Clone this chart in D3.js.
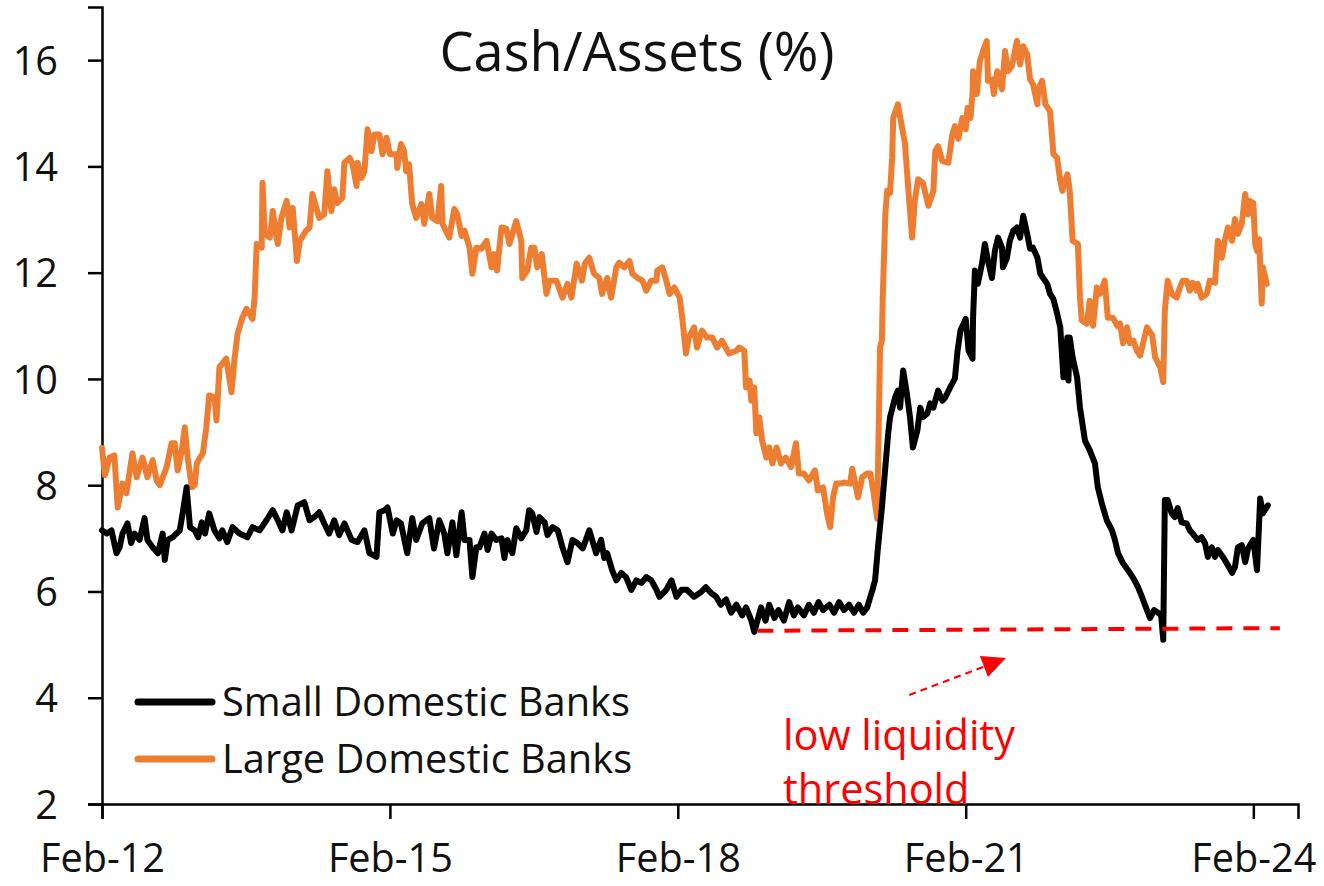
<!DOCTYPE html>
<html>
<head>
<meta charset="utf-8">
<script src="https://cdn.jsdelivr.net/npm/d3@7"></script>
<style>
  html, body { margin: 0; padding: 0; background: #fff; }
  svg { display: block; font-family: "Open Sans", Lato, sans-serif; }
</style>
</head>
<body>
<svg id="chart" width="1324" height="886"></svg>
<script>
// Small domestic banks, cash / assets (%)
const smallBanks = [
  ['2012-02-01', 7.15], ['2012-02-19', 7.09], ['2012-03-08', 7.15], ['2012-03-27', 6.72], ['2012-04-08', 6.83],
  ['2012-04-19', 7.09], ['2012-05-08', 7.28], ['2012-05-22', 6.91], ['2012-06-04', 7.09], ['2012-06-23', 6.97],
  ['2012-07-12', 7.38], ['2012-07-23', 6.97], ['2012-08-12', 6.83], ['2012-09-01', 6.72], ['2012-09-19', 7.09],
  ['2012-09-27', 6.59], ['2012-10-08', 6.97], ['2012-10-27', 7.02], ['2012-11-23', 7.15], ['2012-12-04', 7.47],
  ['2012-12-19', 7.96], ['2013-01-01', 7.21], ['2013-01-19', 7.15], ['2013-02-01', 7.02], ['2013-02-15', 7.30],
  ['2013-02-27', 7.09], ['2013-03-15', 7.47], ['2013-04-04', 7.15], ['2013-04-23', 7.00], ['2013-05-04', 7.15],
  ['2013-05-23', 6.93], ['2013-06-12', 7.21], ['2013-07-08', 7.09], ['2013-08-08', 7.02], ['2013-08-27', 7.21],
  ['2013-09-23', 7.15], ['2013-10-19', 7.34], ['2013-11-12', 7.53], ['2013-12-01', 7.34], ['2013-12-19', 7.15],
  ['2014-01-04', 7.49], ['2014-01-23', 7.15], ['2014-02-15', 7.62], ['2014-03-12', 7.68], ['2014-04-01', 7.34],
  ['2014-04-19', 7.40], ['2014-05-08', 7.49], ['2014-05-27', 7.28], ['2014-06-15', 7.09], ['2014-07-04', 7.34],
  ['2014-07-23', 7.06], ['2014-08-12', 7.28], ['2014-09-08', 6.97], ['2014-10-01', 6.93], ['2014-10-27', 7.15],
  ['2014-11-15', 6.72], ['2014-12-12', 6.65], ['2014-12-23', 7.49], ['2015-01-12', 7.53], ['2015-01-23', 7.58],
  ['2015-02-12', 7.09], ['2015-02-27', 7.34], ['2015-03-15', 7.28], ['2015-04-08', 6.72], ['2015-04-27', 7.38],
  ['2015-05-12', 6.97], ['2015-06-04', 7.28], ['2015-07-01', 7.38], ['2015-07-12', 7.02], ['2015-07-19', 6.81],
  ['2015-08-08', 7.34], ['2015-08-27', 7.09], ['2015-09-08', 6.72], ['2015-09-27', 7.30], ['2015-10-12', 6.68],
  ['2015-11-01', 7.49], ['2015-11-12', 6.97], ['2015-12-01', 6.97], ['2015-12-12', 6.27], ['2015-12-27', 6.83],
  ['2016-01-08', 6.83], ['2016-01-27', 7.09], ['2016-02-08', 6.78], ['2016-02-23', 7.09], ['2016-03-12', 6.97],
  ['2016-04-01', 7.00], ['2016-04-12', 6.63], ['2016-04-23', 6.97], ['2016-05-12', 6.72], ['2016-05-27', 7.19],
  ['2016-06-15', 7.00], ['2016-07-04', 7.15], ['2016-07-15', 7.53], ['2016-07-27', 7.47], ['2016-08-12', 7.12],
  ['2016-08-23', 7.40], ['2016-09-12', 7.30], ['2016-09-23', 7.06], ['2016-10-12', 7.21], ['2016-11-01', 7.15],
  ['2016-11-19', 6.83], ['2016-12-08', 6.55], ['2016-12-27', 6.97], ['2017-01-15', 6.91], ['2017-02-04', 6.81],
  ['2017-03-01', 7.15], ['2017-03-12', 6.97], ['2017-03-27', 6.72], ['2017-04-15', 6.97], ['2017-04-27', 6.63],
  ['2017-05-08', 6.72], ['2017-05-27', 6.40], ['2017-06-12', 6.21], ['2017-07-01', 6.35], ['2017-07-19', 6.27],
  ['2017-08-08', 6.03], ['2017-08-27', 6.21], ['2017-09-15', 6.16], ['2017-10-04', 6.27], ['2017-10-23', 6.21],
  ['2017-11-12', 6.03], ['2017-11-23', 5.90], ['2017-12-19', 6.03], ['2018-01-08', 6.21], ['2018-01-27', 5.90],
  ['2018-02-15', 6.03], ['2018-03-08', 6.03], ['2018-04-04', 5.90], ['2018-05-01', 5.99], ['2018-05-19', 6.08],
  ['2018-06-08', 5.97], ['2018-06-27', 5.90], ['2018-07-15', 5.75], ['2018-08-04', 5.85], ['2018-08-23', 5.60],
  ['2018-09-12', 5.75], ['2018-10-04', 5.55], ['2018-10-19', 5.70], ['2018-11-08', 5.45], ['2018-11-19', 5.24],
  ['2018-12-04', 5.50], ['2018-12-15', 5.70], ['2019-01-01', 5.45], ['2019-01-15', 5.75], ['2019-02-04', 5.50],
  ['2019-02-19', 5.65], ['2019-03-12', 5.45], ['2019-04-01', 5.80], ['2019-04-19', 5.55], ['2019-05-04', 5.70],
  ['2019-05-27', 5.55], ['2019-06-15', 5.75], ['2019-07-04', 5.60], ['2019-07-22', 5.80], ['2019-08-08', 5.65],
  ['2019-09-01', 5.75], ['2019-09-19', 5.60], ['2019-10-08', 5.80], ['2019-10-27', 5.65], ['2019-11-15', 5.75],
  ['2019-12-04', 5.60], ['2019-12-22', 5.75], ['2020-01-08', 5.60], ['2020-01-23', 5.70], ['2020-02-12', 6.03],
  ['2020-02-22', 6.21], ['2020-03-04', 6.83], ['2020-03-19', 7.58], ['2020-04-01', 8.34], ['2020-04-12', 8.98],
  ['2020-04-19', 9.28], ['2020-05-08', 9.65], ['2020-05-19', 9.78], ['2020-05-27', 9.46], ['2020-06-08', 10.16],
  ['2020-06-22', 9.72], ['2020-07-04', 9.28], ['2020-07-15', 8.71], ['2020-08-01', 9.03], ['2020-08-12', 9.46],
  ['2020-08-22', 9.28], ['2020-09-08', 9.35], ['2020-09-19', 9.54], ['2020-10-01', 9.46], ['2020-10-19', 9.78],
  ['2020-11-04', 9.59], ['2020-11-15', 9.65], ['2020-12-04', 9.84], ['2020-12-22', 10.01], ['2021-01-01', 10.53],
  ['2021-01-12', 10.91], ['2021-02-01', 11.13], ['2021-02-12', 10.53], ['2021-02-27', 10.38], ['2021-03-01', 11.15],
  ['2021-03-08', 12.04], ['2021-03-19', 11.79], ['2021-04-04', 12.17], ['2021-04-15', 12.54], ['2021-04-27', 12.22],
  ['2021-05-12', 11.90], ['2021-05-23', 12.41], ['2021-06-04', 12.66], ['2021-06-19', 12.47], ['2021-06-23', 12.10],
  ['2021-07-08', 12.28], ['2021-07-19', 12.60], ['2021-08-01', 12.79], ['2021-08-15', 12.85], ['2021-08-27', 12.66],
  ['2021-09-08', 13.07], ['2021-09-23', 12.73], ['2021-10-04', 12.45], ['2021-10-15', 12.47], ['2021-11-01', 12.28],
  ['2021-11-12', 11.98], ['2021-11-23', 11.90], ['2021-12-08', 11.79], ['2021-12-19', 11.60], ['2022-01-01', 11.50],
  ['2022-01-15', 11.23], ['2022-01-27', 10.97], ['2022-02-08', 10.03], ['2022-02-23', 10.78], ['2022-02-27', 9.97],
  ['2022-03-04', 10.78], ['2022-03-15', 10.41], ['2022-04-01', 10.03], ['2022-04-12', 9.46], ['2022-05-01', 8.84],
  ['2022-05-19', 8.66], ['2022-06-08', 8.41], ['2022-06-19', 7.96], ['2022-07-04', 7.66], ['2022-07-23', 7.34],
  ['2022-08-12', 7.15], ['2022-08-23', 6.97], ['2022-09-04', 6.72], ['2022-09-23', 6.53], ['2022-10-12', 6.40],
  ['2022-11-01', 6.25], ['2022-11-19', 6.08], ['2022-12-04', 5.90], ['2022-12-19', 5.70], ['2023-01-04', 5.50],
  ['2023-01-19', 5.65], ['2023-02-04', 5.60], ['2023-02-15', 5.55], ['2023-02-23', 5.09], ['2023-03-01', 7.72],
  ['2023-03-12', 7.72], ['2023-03-27', 7.47], ['2023-04-08', 7.40], ['2023-04-19', 7.57], ['2023-05-04', 7.30],
  ['2023-05-23', 7.28], ['2023-06-04', 7.15], ['2023-06-15', 7.09], ['2023-07-04', 6.97], ['2023-07-19', 7.02],
  ['2023-08-01', 6.91], ['2023-08-12', 6.65], ['2023-08-27', 6.83], ['2023-09-08', 6.65], ['2023-09-19', 6.78],
  ['2023-10-08', 6.65], ['2023-10-23', 6.53], ['2023-11-12', 6.35], ['2023-11-23', 6.46], ['2023-12-04', 6.83],
  ['2023-12-19', 6.87], ['2024-01-01', 6.55], ['2024-01-12', 6.81], ['2024-02-01', 6.97], ['2024-02-15', 6.40],
  ['2024-02-27', 7.75], ['2024-03-08', 7.47], ['2024-03-27', 7.62]
];

// Large domestic banks, cash / assets (%)
const largeBanks = [
  ['2012-02-01', 8.70], ['2012-02-12', 8.19], ['2012-03-01', 8.52], ['2012-03-19', 8.56], ['2012-04-01', 7.58],
  ['2012-04-19', 8.03], ['2012-05-04', 7.85], ['2012-05-27', 8.60], ['2012-06-12', 8.15], ['2012-07-04', 8.52],
  ['2012-07-23', 8.15], ['2012-08-12', 8.47], ['2012-08-27', 8.09], ['2012-09-08', 8.00], ['2012-10-04', 8.34],
  ['2012-10-23', 8.79], ['2012-11-04', 8.79], ['2012-11-15', 8.28], ['2012-12-01', 8.66], ['2012-12-12', 9.09],
  ['2012-12-23', 8.52], ['2013-01-08', 7.96], ['2013-01-19', 8.00], ['2013-01-27', 8.41], ['2013-02-08', 8.52],
  ['2013-02-19', 8.60], ['2013-03-04', 9.09], ['2013-03-15', 9.69], ['2013-04-04', 9.65], ['2013-04-12', 9.22],
  ['2013-04-23', 10.22], ['2013-05-19', 10.38], ['2013-06-08', 9.75], ['2013-06-19', 10.35], ['2013-07-01', 10.85],
  ['2013-07-19', 11.15], ['2013-08-04', 11.32], ['2013-08-27', 11.13], ['2013-09-04', 11.53], ['2013-09-12', 12.54],
  ['2013-10-01', 12.47], ['2013-10-04', 13.69], ['2013-10-12', 12.73], ['2013-11-01', 12.66], ['2013-11-12', 13.16],
  ['2013-12-01', 12.54], ['2013-12-15', 13.03], ['2014-01-04', 13.35], ['2014-01-15', 12.85], ['2014-01-27', 13.22],
  ['2014-02-12', 12.22], ['2014-02-23', 12.60], ['2014-03-19', 12.79], ['2014-04-01', 12.85], ['2014-04-12', 13.48],
  ['2014-05-08', 13.03], ['2014-05-27', 13.10], ['2014-06-08', 13.91], ['2014-06-23', 13.16], ['2014-07-04', 13.57],
  ['2014-07-15', 13.31], ['2014-08-04', 13.41], ['2014-08-12', 14.07], ['2014-09-01', 14.16], ['2014-09-12', 14.04],
  ['2014-09-27', 13.63], ['2014-10-01', 14.07], ['2014-10-15', 13.78], ['2014-10-27', 13.91], ['2014-11-08', 14.70],
  ['2014-11-23', 14.29], ['2014-12-04', 14.60], ['2014-12-23', 14.60], ['2015-01-04', 14.23], ['2015-01-19', 14.54],
  ['2015-02-01', 14.23], ['2015-02-27', 14.23], ['2015-03-01', 13.97], ['2015-03-15', 14.42], ['2015-03-27', 14.29],
  ['2015-04-04', 13.91], ['2015-04-15', 14.04], ['2015-04-27', 13.29], ['2015-05-12', 13.03], ['2015-06-01', 13.29],
  ['2015-06-12', 12.92], ['2015-07-01', 13.48], ['2015-07-12', 13.03], ['2015-08-01', 12.97], ['2015-08-15', 13.63],
  ['2015-08-20', 12.92], ['2015-09-15', 12.66], ['2015-10-04', 13.20], ['2015-10-15', 13.10], ['2015-11-01', 12.69],
  ['2015-11-12', 12.79], ['2015-12-01', 12.47], ['2015-12-12', 11.98], ['2015-12-27', 12.47], ['2016-01-15', 12.45],
  ['2016-02-04', 12.60], ['2016-02-23', 12.10], ['2016-03-04', 12.35], ['2016-03-15', 12.04], ['2016-04-01', 12.85],
  ['2016-04-19', 12.83], ['2016-05-01', 12.54], ['2016-05-27', 12.97], ['2016-06-15', 12.60], ['2016-06-19', 11.90],
  ['2016-07-08', 12.04], ['2016-07-23', 12.47], ['2016-08-04', 12.47], ['2016-08-15', 12.10], ['2016-09-01', 12.35],
  ['2016-09-19', 11.60], ['2016-10-01', 11.85], ['2016-10-27', 11.85], ['2016-11-19', 11.53], ['2016-12-08', 11.79],
  ['2016-12-23', 11.53], ['2017-01-12', 12.17], ['2017-02-01', 11.85], ['2017-02-12', 12.17], ['2017-03-01', 12.28],
  ['2017-03-19', 11.98], ['2017-04-08', 11.90], ['2017-04-19', 11.60], ['2017-05-08', 11.90], ['2017-05-23', 11.53],
  ['2017-06-12', 12.10], ['2017-06-23', 12.19], ['2017-07-12', 12.10], ['2017-08-01', 12.22], ['2017-08-12', 11.98],
  ['2017-09-01', 11.90], ['2017-09-19', 11.85], ['2017-10-04', 11.66], ['2017-10-23', 11.85], ['2017-11-12', 11.85],
  ['2017-11-15', 12.04], ['2017-12-04', 12.10], ['2017-12-19', 11.85], ['2018-01-01', 11.60], ['2018-01-19', 11.72],
  ['2018-02-08', 11.53], ['2018-02-19', 11.10], ['2018-03-04', 10.48], ['2018-03-15', 10.78], ['2018-04-04', 10.97],
  ['2018-04-15', 10.59], ['2018-05-04', 10.91], ['2018-05-23', 10.78], ['2018-06-12', 10.78], ['2018-07-01', 10.59],
  ['2018-07-19', 10.72], ['2018-08-15', 10.48], ['2018-09-12', 10.53], ['2018-09-23', 10.59], ['2018-10-12', 10.53],
  ['2018-10-19', 9.84], ['2018-11-01', 9.97], ['2018-11-08', 9.59], ['2018-11-19', 9.84], ['2018-11-27', 8.98],
  ['2018-12-08', 9.28], ['2018-12-19', 8.84], ['2019-01-04', 8.52], ['2019-01-15', 8.71], ['2019-01-27', 8.41],
  ['2019-02-12', 8.71], ['2019-03-01', 8.41], ['2019-03-19', 8.52], ['2019-04-08', 8.34], ['2019-04-27', 8.79],
  ['2019-05-08', 8.22], ['2019-05-27', 8.22], ['2019-06-15', 8.09], ['2019-07-08', 8.28], ['2019-07-19', 7.90],
  ['2019-08-08', 7.96], ['2019-08-23', 7.47], ['2019-09-04', 7.21], ['2019-09-15', 7.77], ['2019-09-27', 8.03],
  ['2019-10-12', 8.03], ['2019-10-27', 8.05], ['2019-11-19', 8.03], ['2019-11-27', 8.31], ['2019-12-19', 7.77],
  ['2020-01-04', 8.15], ['2020-01-23', 8.22], ['2020-02-04', 8.22], ['2020-02-15', 7.90], ['2020-03-01', 7.37],
  ['2020-03-12', 10.60], ['2020-03-19', 10.72], ['2020-03-22', 11.50], ['2020-04-01', 13.10], ['2020-04-08', 13.54],
  ['2020-04-19', 13.50], ['2020-04-27', 14.16], ['2020-05-01', 14.91], ['2020-05-19', 15.17], ['2020-06-04', 14.72],
  ['2020-06-15', 14.42], ['2020-06-27', 13.60], ['2020-07-12', 12.66], ['2020-07-22', 13.35], ['2020-08-04', 13.76],
  ['2020-08-22', 13.69], ['2020-09-12', 13.26], ['2020-10-01', 13.54], ['2020-10-08', 14.29], ['2020-10-19', 14.38],
  ['2020-11-04', 14.10], ['2020-11-27', 14.07], ['2020-12-12', 14.60], ['2020-12-22', 14.76], ['2021-01-04', 14.52],
  ['2021-01-19', 14.91], ['2021-02-01', 14.70], ['2021-02-08', 15.10], ['2021-02-19', 14.91], ['2021-02-27', 15.38],
  ['2021-03-01', 15.79], ['2021-03-15', 15.36], ['2021-03-27', 15.98], ['2021-04-08', 16.17], ['2021-04-22', 16.36],
  ['2021-04-27', 15.61], ['2021-05-12', 15.64], ['2021-05-19', 15.36], ['2021-06-01', 15.79], ['2021-06-19', 15.45],
  ['2021-07-01', 16.17], ['2021-07-12', 15.79], ['2021-07-27', 15.89], ['2021-08-15', 16.36], ['2021-08-27', 15.92],
  ['2021-09-08', 16.26], ['2021-09-23', 16.11], ['2021-10-04', 15.64], ['2021-10-15', 15.55], ['2021-11-01', 15.17],
  ['2021-11-04', 15.45], ['2021-11-19', 15.61], ['2021-12-01', 15.17], ['2021-12-19', 15.04], ['2022-01-01', 14.23],
  ['2022-01-15', 14.16], ['2022-01-27', 13.73], ['2022-02-04', 13.54], ['2022-02-23', 13.85], ['2022-03-04', 13.54],
  ['2022-03-15', 12.60], ['2022-04-04', 12.54], ['2022-04-12', 11.53], ['2022-04-19', 11.10], ['2022-05-08', 11.04],
  ['2022-05-19', 11.47], ['2022-06-01', 11.00], ['2022-06-15', 11.72], ['2022-06-27', 11.60], ['2022-07-15', 11.85],
  ['2022-07-27', 11.15], ['2022-08-15', 11.15], ['2022-09-01', 11.00], ['2022-09-12', 11.04], ['2022-09-23', 10.67],
  ['2022-10-08', 10.97], ['2022-10-19', 10.67], ['2022-11-01', 10.72], ['2022-11-15', 10.53], ['2022-11-27', 10.44],
  ['2022-12-08', 10.67], ['2022-12-23', 10.97], ['2023-01-12', 10.82], ['2023-01-23', 10.41], ['2023-02-12', 10.22],
  ['2023-02-23', 9.94], ['2023-03-01', 11.29], ['2023-03-12', 11.85], ['2023-03-27', 11.60], ['2023-04-15', 11.53],
  ['2023-04-27', 11.72], ['2023-05-08', 11.85], ['2023-05-23', 11.85], ['2023-06-04', 11.66], ['2023-06-15', 11.81],
  ['2023-07-01', 11.66], ['2023-07-04', 11.79], ['2023-07-19', 11.53], ['2023-08-08', 11.60], ['2023-08-19', 11.85],
  ['2023-09-08', 11.81], ['2023-09-19', 12.60], ['2023-10-04', 12.28], ['2023-10-15', 12.60], ['2023-10-27', 12.85],
  ['2023-11-12', 12.60], ['2023-11-23', 13.01], ['2023-12-04', 12.73], ['2023-12-19', 12.92], ['2024-01-01', 13.48],
  ['2024-01-12', 13.10], ['2024-01-19', 13.35], ['2024-02-01', 13.31], ['2024-02-08', 12.54], ['2024-02-15', 12.41],
  ['2024-02-23', 12.63], ['2024-03-04', 11.42], ['2024-03-08', 12.10], ['2024-03-23', 11.79]
];

// low liquidity threshold (dashed red line) and the arrow pointing at it
const threshold = [['2018-12-01', 5.26], ['2024-05-12', 5.31]];
const arrowFrom = ['2020-07-01', 4.05];
const arrowTo = ['2021-07-04', 4.75];

const xDomain = ['2012-02-01', '2024-07-20'];
const yDomain = [2, 17];
const xTickDates = ['2012-02-01', '2015-02-01', '2018-02-01', '2021-02-01', '2024-02-01'];
const yTickValues = [2, 4, 6, 8, 10, 12, 14, 16];

const seriesNames = ['Small Domestic Banks', 'Large Domestic Banks'];
const seriesColors = ['#000000', '#ED7D31'];
const titleText = 'Cash/Assets (%)';
const noteLines = ['low liquidity', 'threshold'];

const parse = d3.timeParse('%Y-%m-%d');
const svg = d3.select('#chart');

// font size that makes a text as wide as it is in the reference
function fitSize(text, width) {
  const probe = svg.append('text').style('font-size', '100px').text(text);
  const w = probe.node().getComputedTextLength();
  probe.remove();
  return 100 * width / w;
}
const tickSize = fitSize('Feb-12', 125);
const legendSize = fitSize(seriesNames[0], 408);
const noteSize = fitSize(noteLines[0], 232);
const titleSize = fitSize(titleText, 395);

const x = d3.scaleTime()
  .domain(xDomain.map(parse))
  .range([102, 1298]);
const y = d3.scaleLinear()
  .domain(yDomain)
  .range([804, 7]);

// y axis
const yAxis = d3.axisLeft(y)
  .tickValues(yTickValues)
  .tickSize(14)
  .tickPadding(30)
  .tickFormat(d3.format('d'));
const gy = svg.append('g')
  .attr('transform', `translate(${x(parse(xDomain[0]))},0)`)
  .call(yAxis);
gy.attr('font-family', null).attr('font-size', null);
gy.select('.domain').attr('stroke', '#000').attr('stroke-width', 2.5);
gy.selectAll('.tick line').attr('stroke', '#000').attr('stroke-width', 2.5);
gy.selectAll('.tick text')
  .attr('fill', '#111')
  .style('font-size', `${tickSize}px`)
  .attr('dy', '0.36em');

// x axis
const xAxis = d3.axisBottom(x)
  .tickValues(xTickDates.map(parse))
  .tickSize(15)
  .tickPadding(0)
  .tickFormat(d3.timeFormat('%b-%y'));
const gx = svg.append('g')
  .attr('transform', `translate(0,${y(yDomain[0])})`)
  .call(xAxis);
gx.attr('font-family', null).attr('font-size', null);
gx.select('.domain').attr('stroke', '#000').attr('stroke-width', 2.5);
gx.selectAll('.tick line').attr('stroke', '#000').attr('stroke-width', 2.5);
gx.selectAll('.tick text')
  .attr('fill', '#111')
  .style('font-size', `${tickSize}px`)
  .attr('y', 68)
  .attr('dy', null);

// series lines
const line = d3.line()
  .x(d => x(parse(d[0])))
  .y(d => y(d[1]));

const series = [
  { data: largeBanks, color: seriesColors[1] },
  { data: smallBanks, color: seriesColors[0] }
];
series.forEach((s) => {
  svg.append('path')
    .datum(s.data)
    .attr('fill', 'none')
    .attr('stroke', s.color)
    .attr('stroke-width', 6)
    .attr('stroke-linejoin', 'round')
    .attr('stroke-linecap', 'round')
    .attr('d', line);
});

// threshold
svg.append('path')
  .datum(threshold)
  .attr('fill', 'none')
  .attr('stroke', '#FF0000')
  .attr('stroke-width', 4)
  .attr('stroke-dasharray', '16,11')
  .attr('d', line);

// arrow
const ax = x(parse(arrowTo[0]));
const ay = y(arrowTo[1]);
svg.append('line')
  .attr('x1', x(parse(arrowFrom[0])))
  .attr('y1', y(arrowFrom[1]))
  .attr('x2', ax - 20)
  .attr('y2', ay + 8)
  .attr('stroke', '#FF0000')
  .attr('stroke-width', 2.2)
  .attr('stroke-dasharray', '7,5');
svg.append('path')
  .attr('d', `M${ax},${ay}L${ax - 26},${ay - 2}L${ax - 18},${ay + 19}Z`)
  .attr('fill', '#FF0000');

// annotation text
svg.append('g')
  .selectAll('text')
  .data(noteLines)
  .join('text')
  .attr('x', 783)
  .attr('y', (d, i) => 750 + i * 54)
  .attr('fill', '#FF0000')
  .style('font-size', `${noteSize}px`)
  .text(d => d);

// title
svg.append('text')
  .attr('x', 637)
  .attr('y', 71)
  .attr('text-anchor', 'middle')
  .attr('fill', '#111')
  .style('font-size', `${titleSize}px`)
  .text(titleText);

// legend
const legend = svg.append('g').attr('class', 'legend');
seriesNames.forEach((name, i) => {
  const ly = 702 + i * 57;
  legend.append('line')
    .attr('x1', 138)
    .attr('x2', 212)
    .attr('y1', ly)
    .attr('y2', ly)
    .attr('stroke', seriesColors[i])
    .attr('stroke-width', 7)
    .attr('stroke-linecap', 'round');
  legend.append('text')
    .attr('x', 222)
    .attr('y', ly + 14)
    .attr('fill', '#111')
    .style('font-size', `${legendSize}px`)
    .text(name);
});
</script>
</body>
</html>
